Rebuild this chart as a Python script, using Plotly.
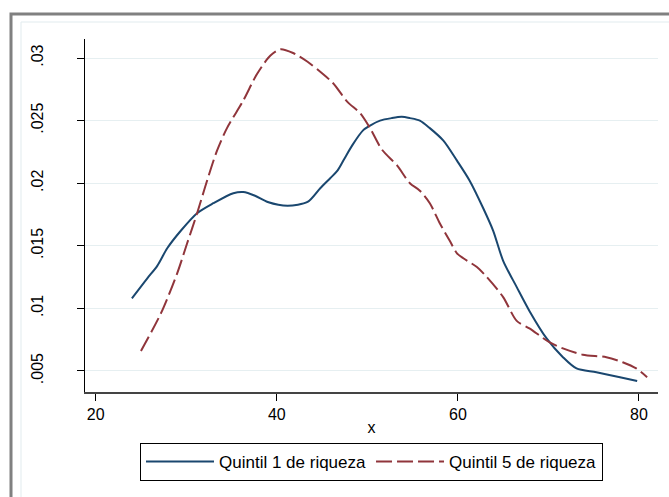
import plotly.graph_objects as go

# Kernel density estimates
q1_x = [24.0, 25.7, 26.8, 27.9, 29.4, 31.2, 33.0, 35.2, 36.3, 37.6, 39.0, 41.2, 43.4, 44.8,
        45.9, 46.7, 47.5, 48.4, 49.5, 50.3, 51.4, 52.7, 53.8, 54.7, 55.8, 56.9, 58.4, 59.9,
        61.3, 62.8, 63.9, 65.0, 66.5, 67.9, 69.8, 71.6, 73.1, 75.3, 77.9, 79.8]
q1_y = [0.0108, 0.0124, 0.0134, 0.0148, 0.0162, 0.0176, 0.0184, 0.0192, 0.0193, 0.0190,
        0.0185, 0.0182, 0.0185, 0.0196, 0.0204, 0.0210, 0.0220, 0.0231, 0.0242, 0.0246,
        0.0250, 0.0252, 0.0253, 0.0252, 0.0250, 0.0244, 0.0234, 0.0218, 0.0202, 0.0180,
        0.0162, 0.0138, 0.0117, 0.0098, 0.0076, 0.0061, 0.0052, 0.0049, 0.0045, 0.0042]

q5_x = [25.0, 27.2, 29.0, 30.1, 31.2, 32.3, 33.4, 34.5, 36.3, 37.8, 39.3, 40.4, 41.8, 43.4,
        44.8, 46.2, 47.8, 49.2, 50.3, 51.6, 53.3, 54.7, 55.8, 56.9, 58.0, 59.1, 59.9, 60.6,
        62.1, 63.2, 65.0, 66.5, 67.9, 70.1, 71.6, 73.8, 76.4, 78.2, 79.7, 80.9]
q5_y = [0.0066, 0.0096, 0.0128, 0.0152, 0.0176, 0.0202, 0.0226, 0.0244, 0.0266, 0.0287,
        0.0302, 0.0307, 0.0304, 0.0297, 0.0289, 0.0280, 0.0265, 0.0256, 0.0244, 0.0227,
        0.0214, 0.0200, 0.0194, 0.0184, 0.0168, 0.0154, 0.0144, 0.0140, 0.0133, 0.0125,
        0.0109, 0.0090, 0.0084, 0.0073, 0.0068, 0.0063, 0.0061, 0.0057, 0.0052, 0.0045]

series_names = ["Quintil 1 de riqueza", "Quintil 5 de riqueza"]
x_ticks = [20, 40, 60, 80]
y_ticks = [0.005, 0.01, 0.015, 0.02, 0.025, 0.03]
y_ticklabels = [".005", ".01", ".015", ".02", ".025", ".03"]

W, H = 669, 497
# plot area in page pixels: x 85..658, y 39..392
L, T = 85, 39
R = W - 658
B = H - 392
PW, PH = W - L - R, H - T - B

def px_x(px):
    return (px - L) / PW

def px_y(py):
    return (H - B - py) / PH

fig = go.Figure()
fig.add_trace(go.Scatter(x=q1_x, y=q1_y, mode="lines", name=series_names[0],
                         line=dict(color="#1a476f", width=2, shape="spline", smoothing=0.8)))
fig.add_trace(go.Scatter(x=q5_x, y=q5_y, mode="lines", name=series_names[1],
                         line=dict(color="#90353b", width=2, dash="16px,5px",
                                   shape="spline", smoothing=0.8)))

fig.update_layout(
    width=W, height=H,
    margin=dict(l=L, r=R, t=T, b=B, pad=0),
    paper_bgcolor="white", plot_bgcolor="white",
    font=dict(family="Liberation Sans, Arial, sans-serif", size=16, color="black"),
    xaxis=dict(range=[18.82, 82.1], tickvals=x_ticks, ticks="outside", ticklen=7,
               tickcolor="black", tickwidth=1, showline=True, linecolor="#444444",
               linewidth=1.5, showgrid=False, zeroline=False,
               title=dict(text="x", standoff=0, font=dict(size=16))),
    yaxis=dict(range=[0.00332, 0.03152], tickvals=y_ticks, ticktext=y_ticklabels,
               tickangle=-90, ticks="outside", ticklen=7, tickcolor="black", tickwidth=1,
               showline=True, linecolor="black", linewidth=1, showgrid=True,
               gridcolor="#e6eff1", gridwidth=1.2, zeroline=False, ticklabelstandoff=28),
    legend=dict(orientation="h", x=0.5, xanchor="center", y=px_y(443), yanchor="top",
                bordercolor="black", borderwidth=1, bgcolor="white",
                font=dict(size=17), itemwidth=68, tracegroupgap=0),
    showlegend=True,
    shapes=[
        dict(type="rect", xref="paper", yref="paper", x0=px_x(11), x1=px_x(720),
             y0=px_y(14), y1=px_y(560), line=dict(color="#808080", width=3),
             fillcolor="rgba(0,0,0,0)", layer="below"),
        dict(type="rect", xref="paper", yref="paper", x0=px_x(21), x1=px_x(720),
             y0=px_y(22), y1=px_y(560), line=dict(color="#e1ebee", width=1),
             fillcolor="rgba(0,0,0,0)", layer="below"),
    ],
)

fig.write_html(
    "out.html",
    config={"displayModeBar": False},
    post_script="document.body.style.margin='0';document.body.style.overflow='hidden';",
)
